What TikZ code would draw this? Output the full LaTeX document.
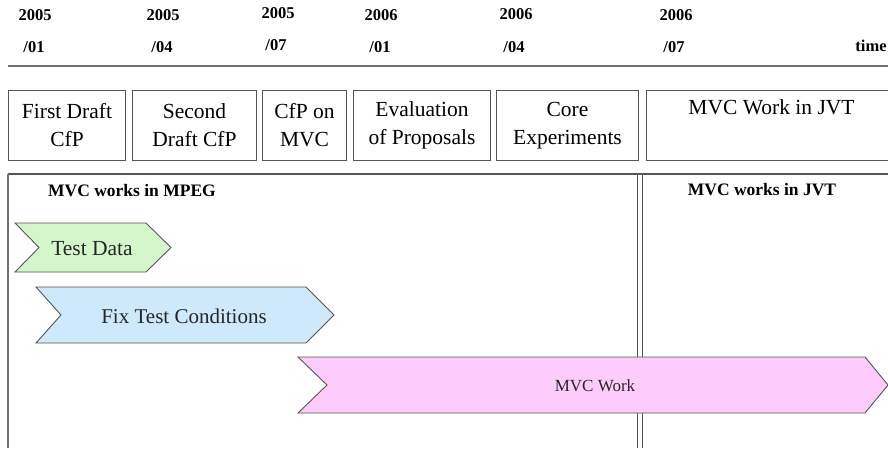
\documentclass[tikz,border=0pt]{standalone}
\usepackage{fontspec}
\setmainfont{Liberation Serif}
\definecolor{linegray}{HTML}{555555}
\definecolor{axisgray}{HTML}{707070}
\definecolor{tdgreen}{HTML}{D3F7CB}
\definecolor{ftblue}{HTML}{CDE9FB}
\definecolor{mvpink}{HTML}{FDCBFC}
\tikzset{
  yearlbl/.style={font=\fontsize{16.5}{18}\selectfont\bfseries, inner sep=0pt},
  phasebox/.style={draw=linegray, line width=1pt, anchor=north west, align=center,
     font=\fontsize{21.5}{28}\selectfont, inner sep=0pt},
  hdr/.style={font=\fontsize{17.5}{20}\selectfont\bfseries, inner sep=0pt},
  chev/.style={draw=linegray, line width=0.9pt, line join=miter},
  chevtxt/.style={inner sep=0pt, text=black!85}
}
\begin{document}
\begin{tikzpicture}[x=1pt,y=-1pt]
\useasboundingbox (0,0) rectangle (888,448);
% time axis labels
\node[yearlbl] (y1) at (35,15) {2005};
\node[yearlbl] (m1) at (34,47) {/01};
\node[yearlbl] (y2) at (163,15) {2005};
\node[yearlbl] (m2) at (162,47) {/04};
\node[yearlbl] (y3) at (278,13) {2005};
\node[yearlbl] (m3) at (276,45) {/07};
\node[yearlbl] (y4) at (381,15) {2006};
\node[yearlbl] (m4) at (380,47) {/01};
\node[yearlbl] (y5) at (516,14) {2006};
\node[yearlbl] (m5) at (514,47) {/04};
\node[yearlbl] (y6) at (676,15) {2006};
\node[yearlbl] (m6) at (674,47) {/07};
\node[yearlbl] (tm) at (871,46) {time};
\coordinate (axL) at (8,66);
\coordinate (axR) at (888,66);
\draw[axisgray, line width=2pt] (axL) -- (axR);
% phase boxes
\node[phasebox, minimum width=117, minimum height=70] (b1) at (8,90) {First Draft\\CfP};
\node[phasebox, minimum width=124, minimum height=70] (b2) at (132,90) {Second\\Draft CfP};
\node[phasebox, minimum width=84, minimum height=70] (b3) at (262,90) {CfP on\\MVC};
\node[phasebox, minimum width=137, minimum height=70] (b4) at (353,90) {Evaluation\\of Proposals};
\node[phasebox, minimum width=142, minimum height=70] (b5) at (496,90) {Core\\Experiments};
\node[phasebox, minimum width=250, minimum height=70] (b6) at (646,90) {MVC Work in JVT\\\strut};
% lower frame
\coordinate (fTL) at (8,174);
\coordinate (fTR) at (888,174);
\coordinate (fBL) at (8,448);
\draw[linegray, line width=1.2pt] (fTL) -- (fTR);
\draw[axisgray, line width=2pt] (fTL) -- (fBL);
\coordinate (d1t) at (637,174);
\coordinate (d1b) at (637,448);
\coordinate (d2t) at (642,174);
\coordinate (d2b) at (642,448);
\draw[linegray, line width=0.8pt] (d1t) -- (d1b);
\draw[linegray, line width=0.8pt] (d2t) -- (d2b);
\node[hdr] (hm) at (132,191) {MVC works in MPEG};
\node[hdr] (hj) at (762,190) {MVC works in JVT};
% chevrons
\draw[chev, fill=tdgreen] (15,223) -- (146,223) -- (171,247.5) -- (146,272) -- (15,272) -- (39,247.5) -- cycle;
\node[chevtxt, font=\fontsize{21.5}{24}\selectfont] (td) at (92,249) {Test Data};
\draw[chev, fill=ftblue] (36,287) -- (306,287) -- (334,315) -- (306,343) -- (36,343) -- (61,315) -- cycle;
\node[chevtxt, font=\fontsize{21}{24}\selectfont] (ft) at (184,316) {Fix Test Conditions};
\draw[chev, fill=mvpink] (298,357) -- (865,357) -- (888,385) -- (865,413) -- (298,413) -- (327,385) -- cycle;
\node[chevtxt, font=\fontsize{17}{20}\selectfont] (mw) at (595,386) {MVC Work};
\end{tikzpicture}
\end{document}
